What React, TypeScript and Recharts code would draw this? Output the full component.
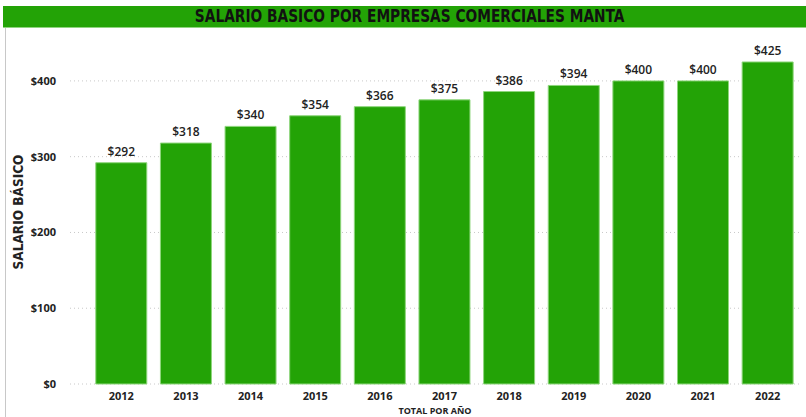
import { Bar, BarChart, CartesianGrid, LabelList, XAxis, YAxis } from "recharts";

const years = ["2012", "2013", "2014", "2015", "2016", "2017", "2018", "2019", "2020", "2021", "2022"];
const salaries = [292, 318, 340, 354, 366, 375, 386, 394, 400, 400, 425];
const yTicks = [0, 100, 200, 300, 400];

const data = years.map((y, i) => ({ year: y, salario: salaries[i] }));

const GREEN = "#23a306";
const FONT = "'Open Sans', 'DejaVu Sans', sans-serif";
const NARROW = "'Liberation Sans Narrow', 'DejaVu Sans Condensed', sans-serif";

const YLabel = (props: { viewBox?: { x: number; y: number; height: number } }) => {
  const vb = props.viewBox;
  if (!vb) return null;
  const cx = 18;
  const cy = vb.y + vb.height / 2;
  return (
    <text
      x={cx}
      y={cy}
      transform={`rotate(-90 ${cx} ${cy})`}
      textAnchor="middle"
      dominantBaseline="central"
      fontFamily={NARROW}
      fontWeight="bold"
      fontSize={13.5}
      fill="#222"
    >
      SALARIO BÁSICO
    </text>
  );
};

export default function App() {
  return (
    <div style={{ position: "absolute", left: 0, top: 0, width: 806, height: 417, background: "#fff" }}>
      {/* left border */}
      <div style={{ position: "absolute", left: 5, top: 27, width: 1, height: 390, background: "#c8c8c8" }} />
      {/* title bar */}
      <div
        style={{
          position: "absolute",
          left: 3,
          top: 6,
          width: 803,
          height: 21,
          background: GREEN,
          borderBottom: "1px solid #8fd47f",
          textAlign: "center",
          lineHeight: "21px",
          fontFamily: NARROW,
          fontWeight: "bold",
          fontSize: 17,
          color: "#111",
        }}
      >
        <span style={{ display: "inline-block", transform: "scaleX(0.9)", marginLeft: 10 }}>
          SALARIO BASICO POR EMPRESAS COMERCIALES MANTA
        </span>
      </div>
      <div style={{ position: "absolute", left: 0, top: 0 }}>
        <BarChart
          width={806}
          height={417}
          data={data}
          margin={{ top: 40, right: 6, left: 5, bottom: 0 }}
          barCategoryGap="10.5%"
        >
          <CartesianGrid vertical={false} stroke="#c8c8c8" strokeDasharray="1 3" syncWithTicks />
          <XAxis
            dataKey="year"
            height={33}
            padding={{ left: 19, right: 0 }}
            axisLine={false}
            tickLine={false}
            tick={{ fill: "#222", fontSize: 11, fontWeight: "bold", fontFamily: FONT }}
            tickMargin={2}
            label={{
              value: "TOTAL POR AÑO",
              position: "insideBottom",
              offset: 3,
              fill: "#222",
              fontSize: 9,
              fontWeight: "bold",
              fontFamily: FONT,
            }}
          />
          <YAxis
            width={65}
            domain={[0, 454]}
            ticks={yTicks}
            axisLine={false}
            tickLine={false}
            tickMargin={8}
            tickFormatter={(v) => `$${v}`}
            tick={{ fill: "#222", fontSize: 11, fontWeight: "bold", fontFamily: FONT }}
            label={<YLabel />}
          />
          <Bar dataKey="salario" fill={GREEN} stroke="#8ed67c" strokeWidth={1} isAnimationActive={false}>
            <LabelList
              dataKey="salario"
              position="top"
              offset={7}
              formatter={(v: number) => `$${v}`}
              style={{ fill: "#222", fontSize: 12, fontFamily: FONT, fontWeight: 600 }}
            />
          </Bar>
        </BarChart>
      </div>
    </div>
  );
}
